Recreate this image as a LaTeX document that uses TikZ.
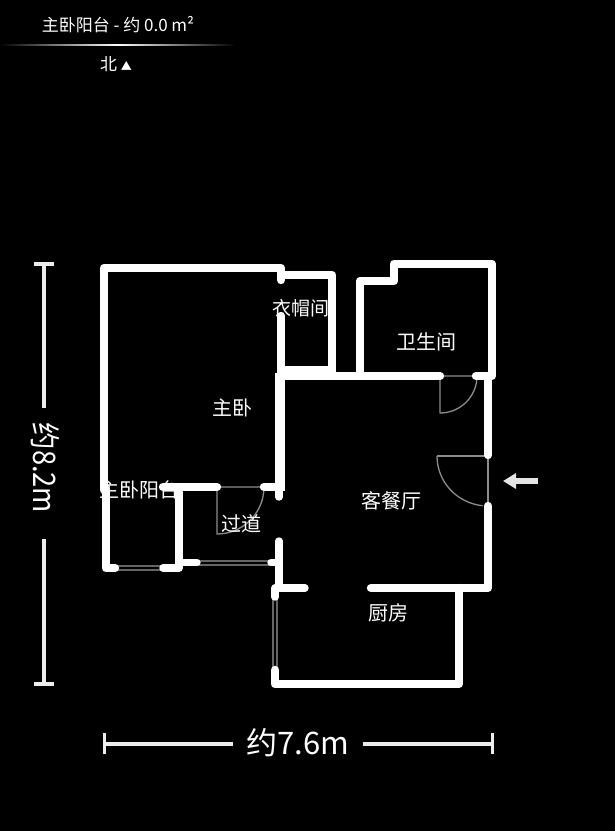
\documentclass[tikz,border=0pt]{standalone}
\usepackage{fontspec}
\setmainfont{Noto Sans CJK SC}
\usetikzlibrary{arrows.meta, positioning}
\newcommand{\fsize}[1]{\fontsize{#1}{#1}\selectfont}

\begin{document}
\begin{tikzpicture}[x=1pt, y=-1pt, line join=round]
  % Define styles
  \tikzstyle{wall} = [draw=white, line width=8.4pt, line cap=round]
  \tikzstyle{thinwall} = [draw=white, line width=7.4pt, line cap=round]
  \tikzstyle{thickwall} = [draw=white, line width=10pt]
  \tikzstyle{doorline} = [draw=gray!90, line width=1.3pt]
  \tikzstyle{glass} = [draw=gray!120, line width=1.4pt]
  \tikzstyle{dimline} = [draw=white!93!black, line width=3.5pt]
  \tikzstyle{roomlabel} = [text=white, inner sep=0pt, font=\fsize{20}]
  \tikzstyle{dimlabel} = [text=white, inner sep=0pt, font=\fsize{31}]
  \tikzstyle{headlabel} = [text=white, inner sep=0pt, font=\fsize{17}]

  % Background
  \fill [black] (0,0) rectangle (615,831);
  \useasboundingbox (0,0) rectangle (615,831);

  % Title
  \node [headlabel] (title) at (118,25) {主卧阳台 - 约 0.0 m²};
  \node [headlabel] (north) at (116,64) {北 {\fsize{11}▲}};
  \shade [left color=black, right color=black, middle color=white] (0,44) rectangle (235,45.2);

  % Doors
  \draw [doorline] (443,376) -- (473,376) (440,376) -- (440,413) arc (90:0:37);
  \draw [doorline] (220,487) -- (262,487) (217,487) -- (217,534) arc (90:5:47);
  \draw [doorline] (488,456) -- (488,503) (437,456) -- (488,456);
  \draw [doorline] (437,456) arc (180:96:51 and 50);

  % Windows
  \draw [glass] (112,566) -- (165,566) (112,570) -- (165,570);
  \draw [glass] (195,561) -- (272,561) (195,565) -- (272,565);
  \draw [glass] (273,596) -- (273,668) (277,596) -- (277,668);

  % Room labels
  \node [roomlabel, font=\fsize{19}] (closet) at (301,308) {衣帽间};
  \node [roomlabel] (bedroom) at (232,408) {主卧};
  \node [roomlabel] (bath) at (426,342) {卫生间};
  \node [roomlabel] (balcony) at (139,490) {主卧阳台};
  \node [roomlabel] (hall) at (241,524) {过道};
  \node [roomlabel] (living) at (391,501) {客餐厅};
  \node [roomlabel] (kitchen) at (388,613) {厨房};

  % Walls
  \draw [wall] (281,280) -- (281,268) -- (104,268) -- (104,490);
  \draw [wall] (106,490) -- (106,568) -- (115,568);
  \draw [wall] (281,275) -- (332,275) -- (332,372);
  \draw [wall] (281,316) -- (281,372);
  \draw [wall, line width=14pt, line cap=butt] (278,373) -- (332,373);
  \draw [wall] (280,376) -- (440,376);
  \draw [wall] (360,376) -- (360,281) -- (394,281) -- (394,264) -- (492,264) -- (492,376) -- (476,376);
  \draw [wall] (488,376) -- (488,455);
  \draw [thickwall] (280,373) -- (280,491);
  \draw [thinwall] (279,485) -- (279,497);
  \draw [wall] (163,487) -- (217,487);
  \draw [wall] (264,487) -- (280,487);
  \draw [thinwall] (179,487) -- (179,568) -- (163,568);
  \draw [thinwall] (179,562.5) -- (197,562.5);
  \draw [thinwall] (271,562.5) -- (279,562.5);
  \draw [thinwall] (279,541) -- (279,588);
  \draw [thinwall] (275,588) -- (305,588) (275,588) -- (275,597);
  \draw [wall] (488,506) -- (488,588) -- (371,588);
  \draw [wall] (459,588) -- (459,684) -- (275,684) -- (275,670);

  % Entrance arrow
  \draw [-{Triangle[length=13pt, width=15pt]}, draw=white!90!black, fill=white!90!black, line width=5.5pt] (538,481) -- (503,481);

  % Dimensions
  \node [dimlabel] (widthLabel) at (298,743) {约7.6m};
  \node [dimlabel, rotate=-90] (heightLabel) at (45,468) {\scalebox{.88}[1]{约8.2m}};
  \coordinate (widthLeft) at (104,744);
  \coordinate (widthRight) at (492,744);
  \coordinate (heightTop) at (44,264);
  \coordinate (heightBottom) at (44,684);
  \draw [dimline] (widthLeft) -- (233,744) (363,744) -- (widthRight);
  \draw [dimline] (heightTop) -- (44,408) (44,539) -- (heightBottom);
  \draw [dimline, line width=3pt] (104,733) -- (104,754) (492,733) -- (492,754);
  \draw [dimline] (34,264) -- (54,264) (34,684) -- (54,684);
\end{tikzpicture}
\end{document}
